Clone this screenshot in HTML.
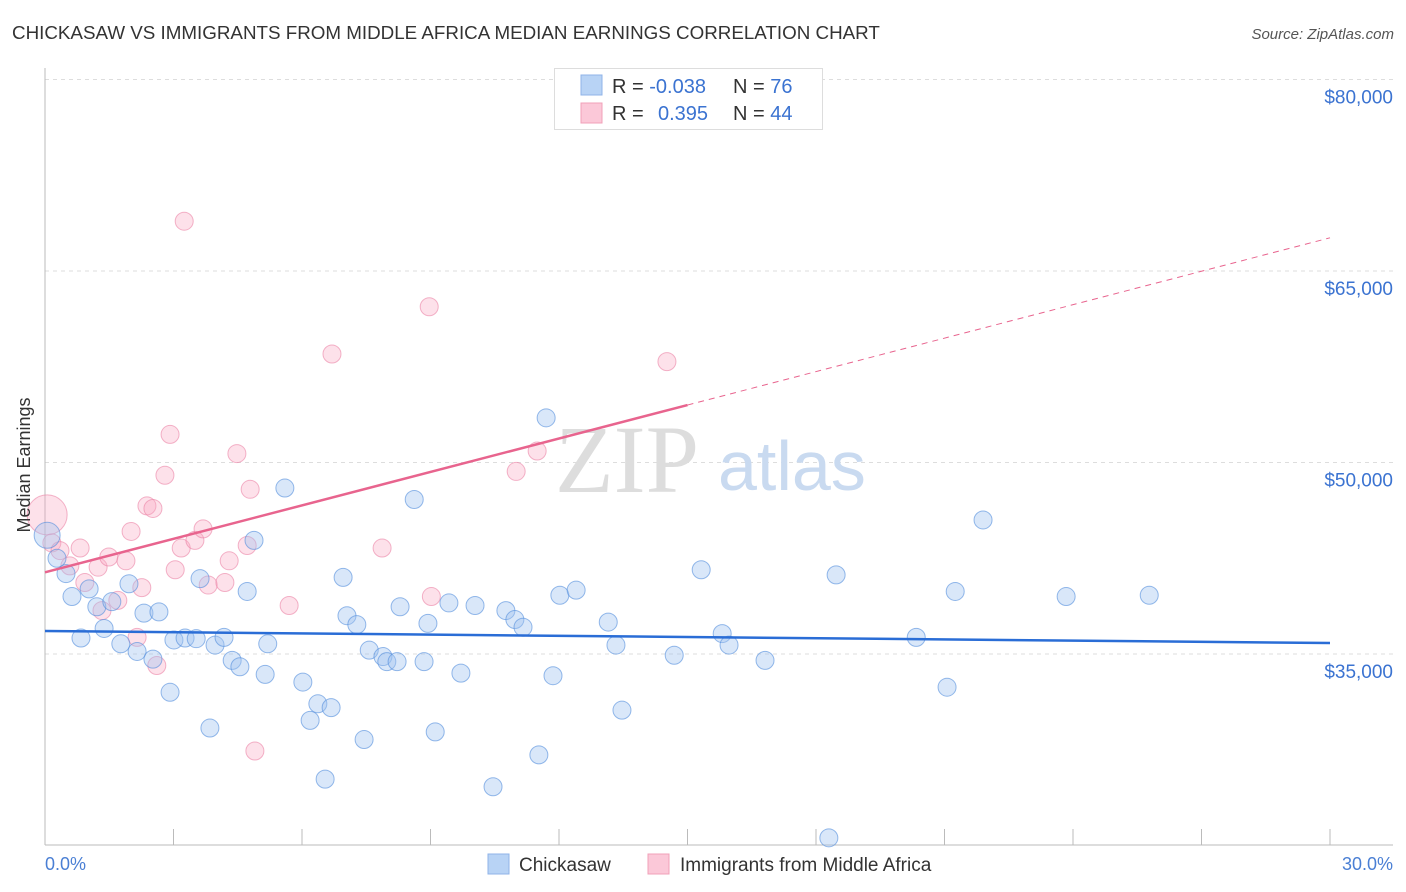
<!DOCTYPE html>
<html><head><meta charset="utf-8">
<style>
body{margin:0;background:#fff;font-family:"Liberation Sans",sans-serif;}
svg{display:block}
</style></head>
<body>
<svg id="chart" width="1406" height="892" xmlns="http://www.w3.org/2000/svg">
<text x="12" y="39" font-size="18.8" fill="#333">CHICKASAW VS IMMIGRANTS FROM MIDDLE AFRICA MEDIAN EARNINGS CORRELATION CHART</text>
<text x="1394" y="39" font-size="15" fill="#555" font-style="italic" text-anchor="end">Source: ZipAtlas.com</text>
<g id="grid"></g>
<g>
<text x="555" y="492" font-size="96" font-family="Liberation Serif" fill="#ddd">ZIP</text>
<text x="718" y="490" font-size="70" fill="#c9daf0">atlas</text>
</g>
<line x1="45" y1="68" x2="45" y2="845" stroke="#bbb"/>
<line x1="45" y1="845" x2="1393" y2="845" stroke="#bbb"/>
<g id="ticks"></g>
<g id="pts"></g>
<g id="trends"></g>
<text x="20" y="455" font-size="18" fill="#333" transform="rotate(-90 30 455)" text-anchor="middle">Median Earnings</text>
<text x="45" y="870" font-size="18" fill="#4a7fd4">0.0%</text>
<text x="1393" y="870" font-size="18" fill="#4a7fd4" text-anchor="end">30.0%</text>
<g>
<rect x="554.5" y="68.5" width="268" height="61" fill="#fff" stroke="#ddd"/>
<rect x="581" y="75" width="21" height="20" fill="#b8d3f5" stroke="#8fb3e8"/>
<rect x="581" y="103" width="21" height="20" fill="#fbc8d8" stroke="#f0a0b8"/>
<text x="612" y="93" font-size="20" fill="#333">R = <tspan fill="#3b73d1">-0.038</tspan></text>
<text x="733" y="93" font-size="20" fill="#333">N = <tspan fill="#3b73d1">76</tspan></text>
<text x="612" y="120" font-size="20" fill="#333">R = <tspan fill="#3b73d1" x="658">0.395</tspan></text>
<text x="733" y="120" font-size="20" fill="#333">N = <tspan fill="#3b73d1">44</tspan></text>
</g>
<g>
<rect x="488" y="854" width="21" height="20" fill="#b8d3f5" stroke="#8fb3e8"/>
<text x="519" y="871" font-size="19" fill="#333">Chickasaw</text>
<rect x="648" y="854" width="21" height="20" fill="#fbc8d8" stroke="#f0a0b8"/>
<text x="680" y="871" font-size="19" fill="#333">Immigrants from Middle Africa</text>
</g>
</svg>
<script>
const yTicks=[35,50,65,80];
const yTickLabels=["$35,000","$50,000","$65,000","$80,000"];
const xTicks=[0,3,6,9,12,15,18,21,24,27,30];
const blueX=[0.05,0.28,0.49,0.63,0.84,1.03,1.21,1.38,1.56,1.96,1.77,2.15,2.31,2.66,2.52,2.92,3.01,3.27,3.53,3.62,3.85,3.97,4.18,4.37,4.55,4.72,4.88,5.14,5.20,5.60,6.02,6.19,6.37,6.54,6.68,6.96,7.05,7.28,7.45,7.57,7.89,7.98,8.22,8.29,8.62,8.85,8.94,9.11,9.43,9.71,10.04,10.46,10.76,10.97,11.16,11.53,11.70,11.86,12.02,12.40,13.15,13.33,13.47,14.69,15.32,15.81,15.97,16.81,18.30,18.47,20.34,21.06,21.25,21.90,23.84,25.78];
const blueY=[44.3,42.5,41.3,39.5,36.25,40.1,38.7,37.0,39.1,40.5,35.8,35.2,38.2,38.3,34.6,32.0,36.1,36.25,36.2,40.9,29.2,35.7,36.3,34.5,34.0,39.9,43.9,33.4,35.8,48.0,32.8,29.8,31.1,25.2,30.8,41.0,38.0,37.3,28.3,35.3,34.8,34.4,34.4,38.7,47.1,34.4,37.4,28.9,39.0,33.5,38.8,24.6,38.4,37.7,37.1,27.1,53.5,33.3,39.6,40.0,37.5,35.7,30.6,34.9,41.6,36.6,35.7,34.5,20.6,41.2,36.3,32.4,39.9,45.5,39.5,39.6];
const pinkX=[0.05,0.16,0.35,0.58,0.82,0.93,1.24,1.33,1.49,1.70,1.89,2.01,2.15,2.26,2.38,2.52,2.61,2.80,2.92,3.04,3.18,3.25,3.50,3.69,3.81,4.20,4.30,4.48,4.72,4.79,4.90,5.70,6.70,7.87,8.97,9.02,11.00,11.49,14.52];
const pinkY=[45.9,43.7,43.1,41.9,43.3,40.6,41.8,38.4,42.6,39.2,42.3,44.6,36.3,40.2,46.6,46.4,34.1,49.0,52.2,41.6,43.3,68.9,43.9,44.8,40.4,40.6,42.3,50.7,43.5,47.9,27.4,38.8,58.5,43.3,62.2,39.5,49.3,50.9,57.9];
const blueTrend=[36.8,35.86];
const pinkTrend=[41.4,67.6];
const NS="http://www.w3.org/2000/svg";
function X(v){return 45+v*1285/30;}
function Y(v){return 654-(v-35)*191.5/15;}
function mk(tag,attrs,parent){const e=document.createElementNS(NS,tag);for(const k in attrs)e.setAttribute(k,attrs[k]);parent.appendChild(e);return e;}
const grid=document.getElementById('grid');
yTicks.forEach((t,i)=>{
  const l=mk('line',{x1:45,x2:1393,y1:Y(t),y2:Y(t),stroke:'#ddd','stroke-dasharray':'4,4'},grid);
  
  
  const tx=mk('text',{x:1393,y:Y(t)+24,'font-size':19,fill:'#3b73d1','text-anchor':'end'},grid);
  tx.textContent=yTickLabels[i];
  
  
});
const ticks=document.getElementById('ticks');
xTicks.forEach(t=>{
  const l=mk('line',{x1:X(t),x2:X(t),y1:829,y2:845,stroke:'#bbb'},ticks);
  
  
});
const pts=document.getElementById('pts');
pinkX.forEach((x,i)=>{
  const c=mk('circle',{cx:X(x),cy:Y(pinkY[i]),r:i===0?20:9,fill:'rgba(248,170,195,0.35)',stroke:'rgba(235,130,165,0.6)','stroke-width':1},pts);
  
  
});
blueX.forEach((x,i)=>{
  const c=mk('circle',{cx:X(x),cy:Y(blueY[i]),r:i===0?13:9,fill:'rgba(160,195,240,0.4)',stroke:'rgba(80,140,220,0.6)','stroke-width':1},pts);
  
  
});
const tr=document.getElementById('trends');
let b=mk('line',{x1:X(0),y1:Y(blueTrend[0]),x2:X(30),y2:Y(blueTrend[1]),stroke:'#2a6dd6','stroke-width':2.5},tr);


const pm=pinkTrend[0]+(pinkTrend[1]-pinkTrend[0])/2;
let p1=mk('line',{x1:X(0),y1:Y(pinkTrend[0]),x2:X(15),y2:Y(pm),stroke:'#e8648e','stroke-width':2.5},tr);


let p2=mk('line',{x1:X(15),y1:Y(pm),x2:X(30),y2:Y(pinkTrend[1]),stroke:'#e8648e','stroke-width':1,'stroke-dasharray':'6,5'},tr);


</script>
</body></html>
